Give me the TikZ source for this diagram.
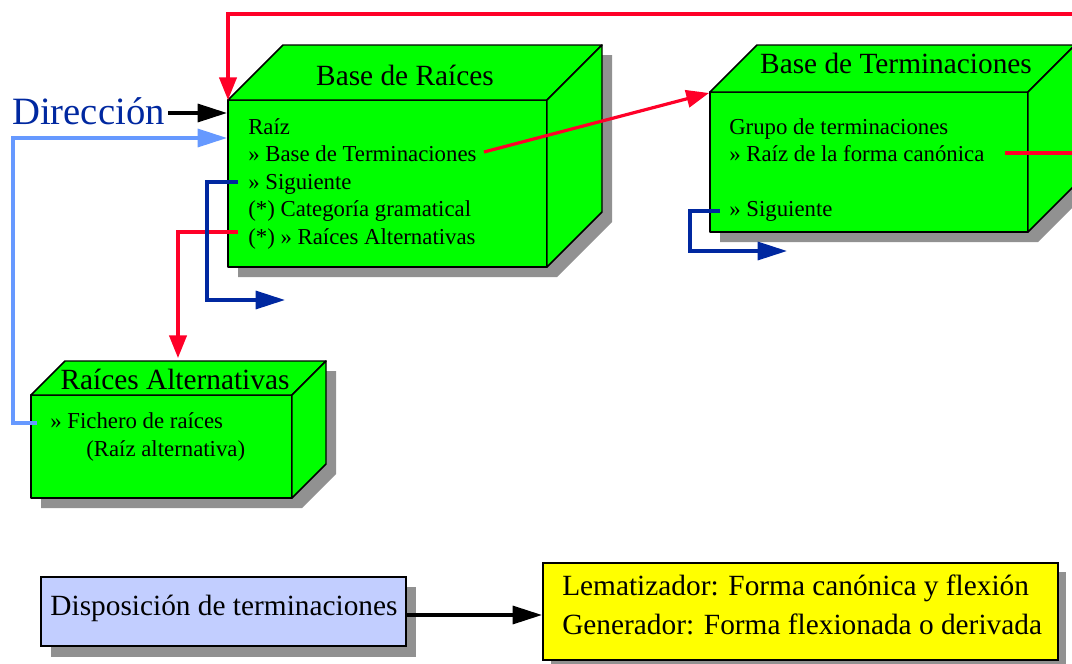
\documentclass[tikz,border=0pt]{standalone}
\usepackage{fontspec}
\setmainfont{Liberation Serif}
\usetikzlibrary{arrows.meta}
\definecolor{boxgreen}{RGB}{0,255,0}
\definecolor{shadowgray}{RGB}{145,145,145}
\definecolor{darkblue}{RGB}{0,40,160}
\definecolor{lightblue}{RGB}{102,153,255}
\definecolor{arrowred}{RGB}{255,0,40}
\definecolor{dispblue}{RGB}{194,206,255}
\definecolor{yel}{RGB}{255,255,0}
\tikzset{
  face/.style={draw=black, line width=1.1pt, fill=boxgreen, line join=round},
  conn/.style={line width=2.4pt},
  bigtip/.style={-{Triangle[length=22pt,width=13.5pt]}},
  redtip/.style={-{Triangle[length=17pt,width=13pt]}},
  titletext/.style={font=\fontsize{22}{26}\selectfont, inner sep=0pt, anchor=base},
  bodytext/.style={font=\fontsize{17.1}{20.6}\selectfont, inner sep=0pt, anchor=base west},
  bigtext/.style={font=\fontsize{22}{26}\selectfont, inner sep=0pt, anchor=base west},
}
% #1 x1, #2 y1, #3 x2, #4 y2, #5 depth
\newcommand\mycuboid[5]{%
  \fill[shadowgray] (#1+10,#2+10) -- (#1+#5+10,#2-#5+10) -- (#3+#5+10,#2-#5+10)
     -- (#3+#5+10,#4-#5+10) -- (#3+10,#4+10) -- (#1+10,#4+10) -- cycle;
  \draw[face] (#1,#2) rectangle (#3,#4);
  \draw[face] (#1,#2) -- (#1+#5,#2-#5) -- (#3+#5,#2-#5) -- (#3,#2) -- cycle;
  \draw[face] (#3,#2) -- (#3+#5,#2-#5) -- (#3+#5,#4-#5) -- (#3,#4) -- cycle;
}
\begin{document}
\begin{tikzpicture}[x=0.75pt,y=-0.75pt]
\useasboundingbox (0,0) rectangle (1072,664);
\clip (0,0) rectangle (1072,664);
\fill[white] (0,0) rectangle (1072,664);

% boxes
\mycuboid{228}{100}{547}{267}{55}
\mycuboid{710}{92}{1028}{232}{47}
\mycuboid{31}{395}{292}{498}{34}

% bottom boxes
\fill[shadowgray] (51,587) rectangle (416,657);
\draw[line width=1.1pt, fill=dispblue] (41,577) rectangle (406,646);
\fill[shadowgray] (551,572) rectangle (1066,670);
\draw[line width=1.1pt, fill=yel] (543,563) rectangle (1058,660);

% named connection points
\coordinate (rbnw) at (228,100);
\coordinate (rbdir) at (227,113);
\coordinate (rbalt) at (227,138);
\coordinate (rbsig) at (238,182);
\coordinate (rbra) at (238,232);
\coordinate (tbnw) at (709,93);
\coordinate (tbsig) at (720,211);
\coordinate (tbrfc) at (1005,153);
\coordinate (rafich) at (37,423);
\coordinate (ratop) at (178,358);
\coordinate (sigend) at (285,300);
\coordinate (tsigend) at (787,251);
\coordinate (dispe) at (406,615);
\coordinate (yelw) at (542,615);

% texts
\node[titletext] (t1) at (405,85) {Base de Raíces};
\node[bodytext] (r1) at (248,134) {Raíz};
\node[bodytext] (r2) at (248,161.5) {» Base de Terminaciones};
\node[bodytext] (r3) at (248,189) {» Siguiente};
\node[bodytext] (r4) at (248,216.5) {(*) Categoría gramatical};
\node[bodytext] (r5) at (248,244) {(*) » Raíces Alternativas};

\node[titletext] (t2) at (896,73) {Base de Terminaciones};
\node[bodytext] (s1) at (729,134) {Grupo de terminaciones};
\node[bodytext] (s2) at (729,161.5) {» Raíz de la forma canónica};
\node[bodytext] (s3) at (729,216.5) {» Siguiente};

\node[titletext] (t3) at (175,389) {Raíces Alternativas};
\node[bodytext] (a1) at (50,428) {» Fichero de raíces};
\node[bodytext] (a2) at (86,456) {(Raíz alternativa)};

\node[font=\fontsize{29}{34}\selectfont, inner sep=0pt, anchor=base west, text=darkblue] (dir) at (12,124) {Dirección};

\node[titletext] (disp) at (224,615) {Disposición de terminaciones};
\node[bigtext] (y1) at (562,595) {Lematizador: Forma canónica y flexión};
\node[bigtext] (y2) at (562,634) {Generador: Forma flexionada o derivada};

% connectors
\draw[conn, arrowred, redtip] (tbrfc) -- (1100,153) -- (1100,14) -| (rbnw);
\draw[conn, arrowred, redtip] (484,152) -- (tbnw);
\draw[conn, arrowred, redtip] (rbra) -| (ratop);
\draw[conn, darkblue, bigtip] (rbsig) -- (207,182) -- (207,300) -- (sigend);
\draw[conn, darkblue, bigtip] (tbsig) -- (690,211) -- (690,251) -- (tsigend);
\draw[conn, lightblue, bigtip] (rafich) -- (13,423) -- (13,138) -- (rbalt);
\draw[conn, black, bigtip] (168,113) -- (rbdir);
\draw[conn, black, bigtip] (dispe) -- (yelw);
\end{tikzpicture}
\end{document}
